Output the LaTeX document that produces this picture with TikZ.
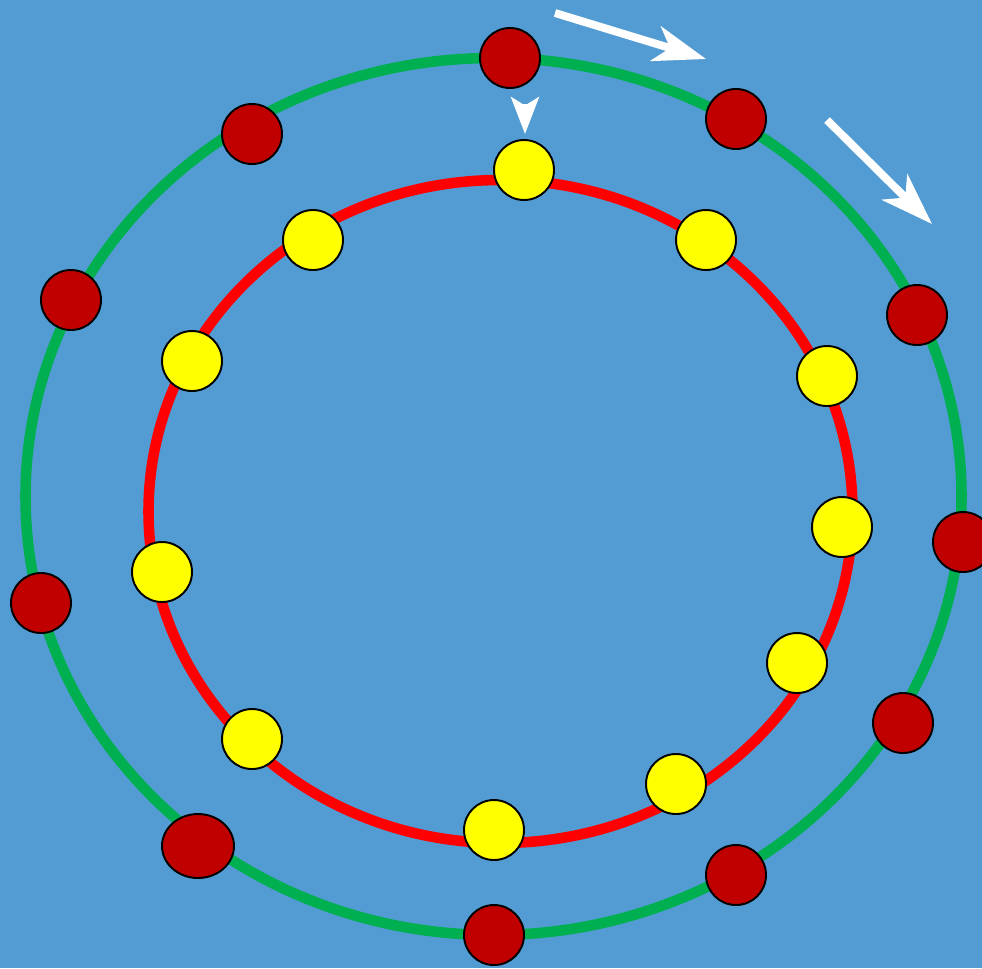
\documentclass[tikz,border=0pt]{standalone}
\usepackage{xcolor}
\usepackage{tikz}
\usetikzlibrary{arrows.meta,shapes.geometric}

\definecolor{bgblue}{HTML}{529CD3}
\definecolor{ringgreen}{HTML}{00B050}
\definecolor{ringred}{HTML}{FF0000}
\definecolor{dotred}{HTML}{C00000}
\definecolor{dotyellow}{HTML}{FFFF00}

\begin{document}
\begin{tikzpicture}[x=0.02cm, y=-0.02cm,
  reddot/.style={circle, draw=black, line width=1.1pt, fill=dotred,
                 minimum size=1.2cm, inner sep=0pt},
  yeldot/.style={circle, draw=black, line width=1.1pt, fill=dotyellow,
                 minimum size=1.2cm, inner sep=0pt},
  bigarr/.style={white, line width=4.5pt,
                 -{Stealth[length=1.05cm, width=0.72cm, inset=0.3cm]}},
  smallarr/.style={white, line width=2.8pt,
                 -{Stealth[length=0.74cm, width=0.56cm, inset=0.17cm]}}
]
  \useasboundingbox (0,0) rectangle (982,968);
  \clip (0,0) rectangle (982,968);
  \fill[bgblue] (0,0) rectangle (982,968);

  % the two rings
  \draw[ringgreen, line width=6pt] (493.5,496.5) ellipse [x radius=468, y radius=438.5];
  \draw[ringred, line width=6pt] (500.5,511.5) ellipse [x radius=352, y radius=331.5];

  % outer dots
  \node[reddot] (r1) at (510,58) {};
  \node[reddot] (r2) at (736,119) {};
  \node[reddot] (r3) at (917,315) {};
  \node[reddot] (r4) at (963,542) {};
  \node[reddot] (r5) at (903,723) {};
  \node[reddot] (r6) at (736,875) {};
  \node[reddot] (r7) at (494,935) {};
  \node[reddot, ellipse, minimum width=1.44cm, minimum height=1.28cm] (r8) at (198,846) {};
  \node[reddot] (r9) at (41,603) {};
  \node[reddot] (r10) at (71,300) {};
  \node[reddot] (r11) at (252,134) {};

  % inner dots
  \node[yeldot] (y1) at (524,170) {};
  \node[yeldot] (y2) at (706,240) {};
  \node[yeldot] (y3) at (827,376) {};
  \node[yeldot] (y4) at (842,527) {};
  \node[yeldot] (y5) at (797,663) {};
  \node[yeldot] (y6) at (676,784) {};
  \node[yeldot] (y7) at (494,830) {};
  \node[yeldot] (y8) at (252,739) {};
  \node[yeldot] (y9) at (162,572) {};
  \node[yeldot] (y10) at (192,361) {};
  \node[yeldot] (y11) at (313,240) {};

  % arrows
  \coordinate (a1s) at (555,13);
  \coordinate (a1e) at (706,59);
  \coordinate (a2s) at (827,120);
  \coordinate (a2e) at (932,224);
  \coordinate (a3s) at (525,104);
  \coordinate (a3e) at (525,134);
  \draw[bigarr] (a1s) -- (a1e);
  \draw[bigarr] (a2s) -- (a2e);
  \draw[smallarr] (a3s) -- (a3e);
\end{tikzpicture}
\end{document}
